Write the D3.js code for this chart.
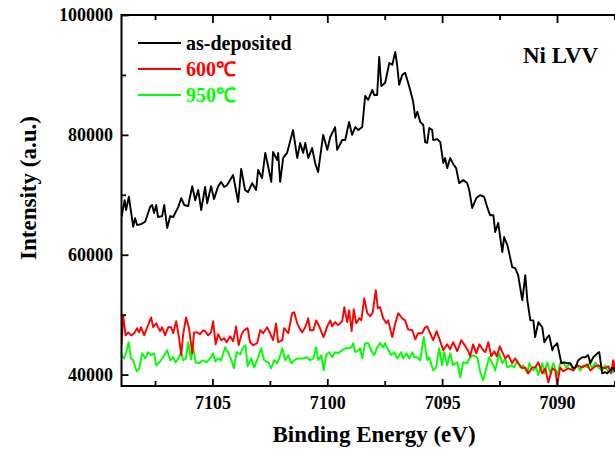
<!DOCTYPE html>
<html>
<head>
<meta charset="utf-8">
<script src="https://cdn.jsdelivr.net/npm/d3@7"></script>
<style>
  body { margin: 0; background: #fff; }
  svg { display: block; }
</style>
</head>
<body>
<svg id="chart" width="615" height="450"></svg>
<script>
// Ni LVV Auger spectra: binding energy (eV) vs. intensity (a.u.)

const seriesNames = ["as-deposited", "600\u2103", "950\u2103"];
const seriesColors = ["#000000", "#ff0000", "#00ff00"];

const asDepositedEnergy = [
  7108.96, 7108.82, 7108.76, 7108.64, 7108.45, 7108.37, 7108.28, 7108.11, 7107.93, 7107.71,
  7107.63, 7107.54, 7107.45, 7107.37, 7107.19, 7107.10, 7106.97, 7106.84, 7106.71, 7106.49,
  7106.36, 7106.23, 7106.06, 7105.88, 7105.75, 7105.62, 7105.49, 7105.32, 7105.23, 7105.06,
  7104.93, 7104.75, 7104.62, 7104.49, 7104.36, 7104.10, 7103.88, 7103.75, 7103.58,
  7103.45, 7103.27, 7103.10, 7103.01, 7102.84, 7102.70, 7102.57, 7102.44, 7102.36, 7102.18,
  7102.14, 7102.05, 7101.92, 7101.75, 7101.49, 7101.31, 7101.18, 7101.05, 7100.96, 7100.83,
  7100.66, 7100.53, 7100.40, 7100.18, 7100.00, 7099.87, 7099.66, 7099.57, 7099.35, 7099.22,
  7099.05, 7098.92, 7098.78, 7098.65, 7098.48, 7098.35, 7098.22, 7098.04, 7097.96, 7097.83,
  7097.74, 7097.65, 7097.48, 7097.30, 7097.17, 7097.04, 7096.96, 7096.87, 7096.74, 7096.61,
  7096.52, 7096.39, 7096.26, 7096.17, 7096.08, 7095.95, 7095.82, 7095.74, 7095.65, 7095.56,
  7095.43, 7095.39, 7095.21, 7095.08, 7094.95, 7094.87, 7094.78, 7094.65, 7094.52, 7094.39,
  7094.26, 7094.08, 7093.91, 7093.82, 7093.69, 7093.51, 7093.34, 7093.17, 7093.04, 7092.91,
  7092.77, 7092.69, 7092.56, 7092.38, 7092.30, 7092.16, 7092.08, 7091.95, 7091.82, 7091.69,
  7091.51, 7091.38, 7091.29, 7091.16, 7091.03, 7090.95, 7090.81, 7090.64, 7090.55, 7090.42,
  7090.34, 7090.20, 7090.16, 7089.99, 7089.81, 7089.68, 7089.55, 7089.42, 7089.29, 7089.20,
  7089.07, 7088.90, 7088.77, 7088.64, 7088.55, 7088.42, 7088.24, 7088.16, 7088.03, 7087.90,
  7087.81, 7087.68, 7087.55, 7087.46
];
const asDepositedIntensity = [
  66300, 69100, 67450, 69700, 64650, 66100, 64950, 65100, 65500, 68000,
  68300, 66950, 68300, 66300, 66450, 68300, 64450, 66450, 66300, 67950,
  69450, 68300, 68100, 71450, 69100, 70800, 67450, 71300, 68600, 71450,
  69300, 71450, 72150, 71300, 71650, 73300, 68800, 74300, 70800,
  70450, 71950, 70800, 74150, 72800, 77000, 74650, 72150, 77150, 75800,
  77000, 72150, 76150, 77000, 80800, 76150, 78650, 77000, 78650, 76150,
  77800, 75300, 73800, 80000, 77500, 79650, 81300, 77500, 79150, 79150,
  82150, 80000, 81300, 80800, 81300, 86500, 85850, 87500, 86650, 86650,
  93000, 88150, 88700, 92000, 91700, 93850, 91700, 88350, 90000, 90350,
  89200, 87500, 85500, 82850, 83850, 82150, 81650, 78800, 78650, 81150,
  80800, 79150, 79300, 78800, 75300, 76150, 74450, 76150, 75150, 74450,
  71950, 72450, 71950, 70800, 67800, 69450, 69950, 69650, 67950, 66600,
  66600, 63800, 65300, 60450, 62950, 61600, 60250, 57950, 57750, 56600,
  52400, 56600, 52400, 49050, 49050, 46250, 48750, 47900, 45400, 46250,
  46550, 44050, 44550, 45250, 41900, 42050, 41900, 41900, 41050, 41200,
  42400, 42900, 42900, 43250, 41900, 42900, 43550, 43750, 40200, 40400,
  40200, 40700, 41200, 40400
];

const annealed600Energy = [
  7108.96, 7108.89, 7108.78, 7108.67, 7108.54, 7108.41, 7108.28, 7108.19, 7108.11, 7107.97,
  7107.84, 7107.67, 7107.58, 7107.45, 7107.28, 7107.19, 7107.06, 7106.93, 7106.80, 7106.71,
  7106.58, 7106.45, 7106.36, 7106.28, 7106.15, 7106.02, 7105.88, 7105.80, 7105.67, 7105.54,
  7105.41, 7105.32, 7105.19, 7105.06, 7104.97, 7104.86, 7104.75, 7104.62, 7104.49, 7104.38,
  7104.23, 7104.10, 7103.97, 7103.86, 7103.73, 7103.62, 7103.47, 7103.36, 7103.23, 7103.05,
  7102.92, 7102.79, 7102.62, 7102.49, 7102.36, 7102.23, 7102.14, 7101.96, 7101.88, 7101.70,
  7101.53, 7101.44, 7101.31, 7101.18, 7101.09, 7100.96, 7100.83, 7100.75, 7100.61, 7100.48,
  7100.35, 7100.22, 7100.16, 7100.00, 7099.87, 7099.79, 7099.66, 7099.53, 7099.35, 7099.26,
  7099.13, 7099.05, 7098.94, 7098.85, 7098.74, 7098.61, 7098.52, 7098.39, 7098.26, 7098.13,
  7098.02, 7097.89, 7097.80, 7097.70, 7097.57, 7097.43, 7097.35, 7097.17, 7097.04, 7096.91,
  7096.74, 7096.61, 7096.48, 7096.30, 7096.17, 7096.04, 7095.87, 7095.74, 7095.65, 7095.52,
  7095.39, 7095.24, 7095.08, 7094.95, 7094.78, 7094.65, 7094.52, 7094.34, 7094.17, 7094.04,
  7093.86, 7093.78, 7093.65, 7093.51, 7093.38, 7093.21, 7093.12, 7092.99, 7092.86, 7092.73,
  7092.62, 7092.49, 7092.38, 7092.25, 7092.12, 7091.95, 7091.82, 7091.69, 7091.51, 7091.38,
  7091.25, 7091.08, 7090.95, 7090.81, 7090.64, 7090.51, 7090.38, 7090.20, 7090.07, 7089.99,
  7089.86, 7089.73, 7089.51, 7089.29, 7089.12, 7088.90, 7088.68, 7088.55, 7088.33, 7088.20,
  7088.03, 7087.90, 7087.77, 7087.64, 7087.55, 7087.46
];
const annealed600Intensity = [
  44900, 49900, 46550, 47050, 46550, 46900, 47750, 47050, 47900, 46550,
  47900, 49550, 47900, 48550, 47250, 47900, 46550, 47900, 47900, 46900,
  48900, 46050, 43250, 46550, 49550, 47750, 43550, 47050, 47050, 46750,
  47400, 47250, 46550, 47050, 48900, 45050, 46750, 45750, 46050, 45400,
  46400, 45550, 48050, 44900, 46750, 47400, 47750, 45400, 44900, 45250,
  47400, 46900, 47900, 46900, 45750, 48550, 45400, 45750, 47750, 46900,
  50250, 50400, 48550, 47550, 47050, 47900, 49400, 47400, 47400, 49050,
  48050, 46750, 46250, 48050, 49050, 48050, 48750, 48250, 48900, 51250,
  48750, 50750, 47250, 50900, 48550, 49400, 49050, 52750, 50250, 49750,
  50400, 54100, 51100, 51250, 49400, 48550, 49050, 46250, 48550, 50250,
  49400, 49050, 47550, 47400, 45900, 46900, 46900, 47900, 48050, 46900,
  45750, 47250, 45550, 44050, 45050, 44250, 45400, 43900, 45750, 45050,
  43900, 43050, 45050, 43550, 45050, 44050, 43750, 45400, 43050, 43900,
  43050, 44750, 43750, 42700, 43250, 41900, 42700, 41900, 41050, 41200,
  40200, 41200, 41200, 42050, 40200, 41050, 38700, 41050, 40700, 38400,
  41200, 40550, 41050, 40700, 41550, 41200, 41700, 40700, 41400, 41550,
  41200, 41050, 41400, 40200, 42400, 40700
];

const annealed950Energy = [
  7108.96, 7108.85, 7108.75, 7108.65, 7108.55, 7108.45, 7108.30, 7108.19, 7108.06, 7107.93,
  7107.80, 7107.67, 7107.54, 7107.45, 7107.28, 7107.15, 7106.97, 7106.84, 7106.71, 7106.60,
  7106.49, 7106.36, 7106.28, 7106.15, 7106.06, 7105.93, 7105.84, 7105.73, 7105.58, 7105.41,
  7105.25, 7105.10, 7104.97, 7104.88, 7104.75, 7104.62, 7104.45, 7104.32, 7104.19, 7104.06,
  7103.95, 7103.79, 7103.66, 7103.56, 7103.47, 7103.31, 7103.18, 7103.01, 7102.88, 7102.75,
  7102.57, 7102.44, 7102.31, 7102.18, 7102.09, 7101.96, 7101.83, 7101.70, 7101.57, 7101.44,
  7101.27, 7101.05, 7100.88, 7100.75, 7100.61, 7100.48, 7100.40, 7100.26, 7100.16, 7100.05,
  7099.92, 7099.79, 7099.66, 7099.53, 7099.35, 7099.22, 7099.09, 7098.96, 7098.87, 7098.79,
  7098.65, 7098.57, 7098.48, 7098.35, 7098.22, 7098.09, 7097.96, 7097.83, 7097.70, 7097.57,
  7097.48, 7097.39, 7097.22, 7097.09, 7096.96, 7096.78, 7096.70, 7096.56, 7096.43, 7096.30,
  7096.22, 7096.09, 7095.95, 7095.80, 7095.65, 7095.56, 7095.39, 7095.26, 7095.13, 7095.00,
  7094.91, 7094.78, 7094.65, 7094.52, 7094.34, 7094.21, 7094.08, 7093.91, 7093.82, 7093.65,
  7093.47, 7093.34, 7093.21, 7093.08, 7092.95, 7092.77, 7092.69, 7092.51, 7092.38, 7092.25,
  7092.16, 7091.99, 7091.86, 7091.73, 7091.60, 7091.47, 7091.29, 7091.21, 7091.03, 7090.90,
  7090.81, 7090.64, 7090.55, 7090.42, 7090.29, 7090.16, 7089.99, 7089.86, 7089.73, 7089.60,
  7089.42, 7089.29, 7089.12, 7088.99, 7088.86, 7088.68, 7088.59, 7088.46, 7088.33, 7088.20,
  7088.03, 7087.90, 7087.77, 7087.64, 7087.55, 7087.46
];
const annealed950Intensity = [
  43250, 42700, 43750, 45400, 42700, 42400, 40550, 41050, 43550, 42700,
  43750, 43250, 43550, 41550, 42200, 42900, 44050, 42400, 42900, 42050,
  42700, 43750, 42400, 42700, 45400, 42550, 44550, 42050, 41900, 42400,
  42050, 42700, 43550, 42200, 42700, 42400, 44550, 43750, 42550, 41050,
  43750, 43400, 44550, 44900, 41400, 42700, 41200, 42900, 44400, 42400,
  42050, 41050, 42400, 41900, 42700, 44400, 42400, 43250, 41900, 42400,
  42700, 42700, 42900, 42400, 42700, 44550, 42400, 43250, 40700, 43250,
  43750, 42900, 43750, 43550, 44050, 44400, 44400, 44550, 45250, 43750,
  44050, 44400, 42700, 45250, 45250, 44050, 43250, 44550, 45250, 44550,
  45250, 44400, 43250, 43750, 42700, 43750, 42700, 43550, 42700, 43750,
  42900, 42900, 42400, 46250, 42400, 42900, 40700, 41200, 44400, 41550,
  43750, 41550, 43550, 41550, 42050, 39550, 42050, 41900, 42700, 43250,
  42900, 40400, 39050, 41050, 42900, 41550, 40700, 43550, 41900, 42700,
  41200, 41550, 41200, 42400, 41200, 41550, 40200, 41900, 40700, 41200,
  39900, 41900, 40200, 42050, 40200, 41900, 39900, 41900, 42050, 41200,
  41900, 40700, 41550, 40700, 41550, 41200, 41900, 41050, 42050, 41200,
  40700, 41550, 40400, 41200, 40400, 41900
];

const xMajorTicks = [7105, 7100, 7095, 7090];
const xMinorTicks = [7107.5, 7102.5, 7097.5, 7092.5, 7087.5];
const yMajorTicks = [40000, 60000, 80000, 100000];
const yMinorTicks = [50000, 70000, 90000];

const xTitle = "Binding Energy (eV)";
const yTitle = "Intensity (a.u.)";
const panelLabel = "Ni LVV";

// ---------------------------------------------------------------
const serif = "'Liberation Serif', 'Times New Roman', Times, serif";
const box = { left: 121.5, top: 15, right: 616, bottom: 386 };

const svg = d3.select("#chart");

const x = d3.scaleLinear().domain([7108.96, 7087.43]).range([box.left, box.right]);
const y = d3.scaleLinear().domain([38100, 100000]).range([box.bottom, box.top]);

function pairUp(es, is) {
  const n = Math.min(es.length, is.length);
  return d3.range(n).map(i => ({ e: es[i], v: is[i] }));
}
const series = [
  pairUp(asDepositedEnergy, asDepositedIntensity),
  pairUp(annealed600Energy, annealed600Intensity),
  pairUp(annealed950Energy, annealed950Intensity)
];

svg.append("defs").append("clipPath").attr("id", "plotClip")
  .append("rect")
  .attr("x", box.left).attr("y", box.top)
  .attr("width", box.right - box.left).attr("height", box.bottom - box.top);

const line = d3.line().x(d => x(d.e)).y(d => y(d.v));

const lines = svg.append("g").attr("clip-path", "url(#plotClip)");
// draw green first, then red, then black on top
[2, 1, 0].forEach(k => {
  lines.append("path")
    .datum(series[k])
    .attr("d", line)
    .attr("fill", "none")
    .attr("stroke", seriesColors[k])
    .attr("stroke-width", 1.9)
    .attr("stroke-linejoin", "round");
});

// axes with inward ticks
function styleAxis(g) {
  g.select(".domain").remove();
  g.selectAll(".tick line").attr("stroke", "#000").attr("stroke-width", 1.8);
  g.selectAll("text")
    .attr("font-family", serif)
    .attr("font-weight", "bold")
    .attr("font-size", 18)
    .attr("fill", "#000");
}

svg.append("g")
  .attr("transform", `translate(0,${box.bottom})`)
  .call(d3.axisBottom(x).tickValues(xMajorTicks).tickFormat(d3.format("d"))
        .tickSize(-7).tickPadding(10))
  .call(styleAxis);
svg.append("g")
  .attr("transform", `translate(0,${box.bottom})`)
  .call(d3.axisBottom(x).tickValues(xMinorTicks).tickFormat("").tickSize(-5))
  .call(styleAxis);
svg.append("g")
  .attr("transform", `translate(0,${box.top})`)
  .call(d3.axisTop(x).tickValues(xMajorTicks).tickFormat("").tickSize(-8))
  .call(styleAxis);
svg.append("g")
  .attr("transform", `translate(0,${box.top})`)
  .call(d3.axisTop(x).tickValues(xMinorTicks).tickFormat("").tickSize(-5))
  .call(styleAxis);
svg.append("g")
  .attr("transform", `translate(${box.left},0)`)
  .call(d3.axisLeft(y).tickValues(yMajorTicks).tickFormat(d3.format("d"))
        .tickSize(-7).tickPadding(8.5))
  .call(styleAxis);
svg.append("g")
  .attr("transform", `translate(${box.left},0)`)
  .call(d3.axisLeft(y).tickValues(yMinorTicks).tickFormat("").tickSize(-4.5))
  .call(styleAxis);

// frame
svg.append("rect")
  .attr("x", box.left).attr("y", box.top)
  .attr("width", box.right - box.left).attr("height", box.bottom - box.top)
  .attr("fill", "none").attr("stroke", "#000").attr("stroke-width", 2);

// axis titles
svg.append("text")
  .attr("x", 374).attr("y", 442)
  .attr("text-anchor", "middle")
  .attr("font-family", serif).attr("font-weight", "bold").attr("font-size", 23)
  .text(xTitle);
svg.append("text")
  .attr("transform", "translate(36,188) rotate(-90)")
  .attr("text-anchor", "middle")
  .attr("font-family", serif).attr("font-weight", "bold").attr("font-size", 23)
  .text(yTitle);

// legend
const legendRows = [43, 69, 95];
const legend = svg.append("g");
seriesNames.forEach((name, i) => {
  legend.append("line")
    .attr("x1", 138).attr("x2", 181)
    .attr("y1", legendRows[i]).attr("y2", legendRows[i])
    .attr("stroke", seriesColors[i]).attr("stroke-width", 1.9);
  legend.append("text")
    .attr("x", 186).attr("y", legendRows[i] + 7)
    .attr("font-family", serif).attr("font-weight", "bold").attr("font-size", 20)
    .attr("fill", seriesColors[i])
    .text(name);
});

// panel label
svg.append("text")
  .attr("x", 523).attr("y", 63)
  .attr("font-family", serif).attr("font-weight", "bold").attr("font-size", 23)
  .text(panelLabel);
</script>
</body>
</html>
